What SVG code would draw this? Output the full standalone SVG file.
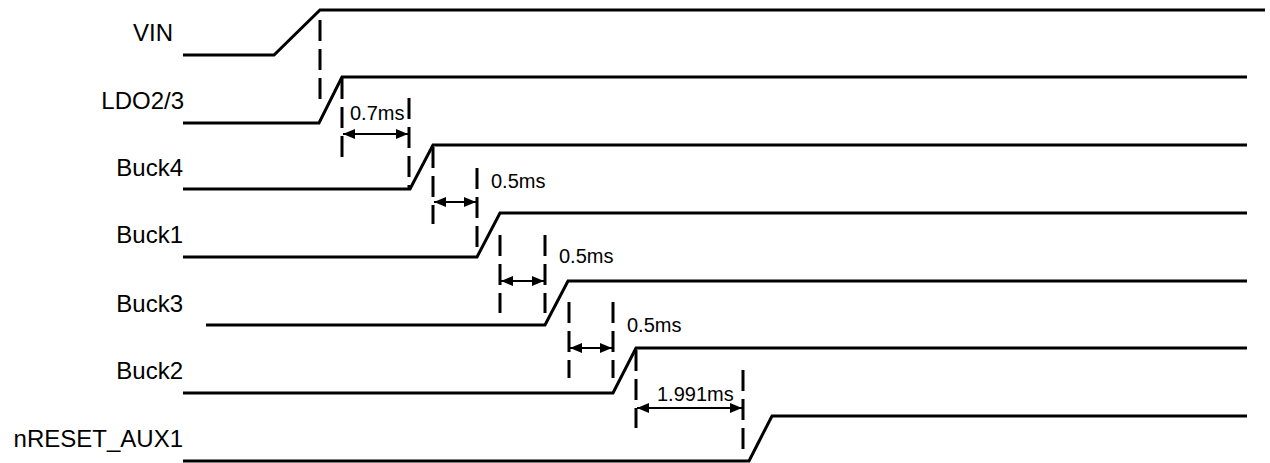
<svg xmlns="http://www.w3.org/2000/svg" width="1270" height="463" viewBox="0 0 1270 463">
<style>
.sig{fill:none;stroke:#000;stroke-width:3;stroke-linejoin:miter}
.dash{fill:none;stroke:#000;stroke-width:3;stroke-dasharray:21 8}
.arr{fill:none;stroke:#000;stroke-width:2;marker-start:url(#ah);marker-end:url(#ah)}
.lbl{font-family:"Liberation Sans",Arial,sans-serif;font-size:24px;fill:#000;text-anchor:end}
.tm{font-family:"Liberation Sans",Arial,sans-serif;font-size:20px;fill:#000}
</style>
<defs>
<marker id="ah" viewBox="0 0 12 10" refX="12" refY="5" markerWidth="12" markerHeight="10" markerUnits="userSpaceOnUse" orient="auto-start-reverse">
<path d="M0 0 L12 5 L0 10 Z" fill="#000"/>
</marker>
</defs>
<rect width="1270" height="463" fill="#fff"/>
<g id="VIN">
<text class="lbl" x="173" y="41">VIN</text>
<path class="sig" d="M183 55 H274 L320 10 H1265"/>
</g>
<g id="LDO23">
<text class="lbl" x="184" y="109">LDO2/3</text>
<path class="sig" d="M183 123 H319 L342 77 H1247"/>
</g>
<g id="Buck4">
<text class="lbl" x="183" y="176">Buck4</text>
<path class="sig" d="M183 189 H410 L433 145 H1247"/>
</g>
<g id="Buck1">
<text class="lbl" x="183" y="243">Buck1</text>
<path class="sig" d="M183 257 H477 L500 213 H1247"/>
</g>
<g id="Buck3">
<text class="lbl" x="183" y="312">Buck3</text>
<path class="sig" d="M206 325 H545 L568 281 H1247"/>
</g>
<g id="Buck2">
<text class="lbl" x="183" y="379">Buck2</text>
<path class="sig" d="M183 393 H613 L636 348 H1247"/>
</g>
<g id="nRESET_AUX1">
<text class="lbl" x="183" y="447">nRESET_AUX1</text>
<path class="sig" d="M183 461 H749 L772 416 H1247"/>
</g>
<g id="connectors">
<line class="dash" x1="320" y1="20" x2="320" y2="100"/>
<line class="dash" x1="342" y1="78" x2="342" y2="157"/>
<line class="dash" x1="409" y1="98" x2="409" y2="188"/>
<line class="arr" x1="343" y1="134" x2="408" y2="134"/>
<text class="tm" x="350" y="120">0.7ms</text>
<line class="dash" x1="433" y1="147" x2="433" y2="224"/>
<line class="dash" x1="477" y1="168" x2="477" y2="248"/>
<line class="arr" x1="434" y1="202" x2="476" y2="202"/>
<text class="tm" x="491" y="188">0.5ms</text>
<line class="dash" x1="500" y1="235" x2="500" y2="313"/>
<line class="dash" x1="545" y1="235" x2="545" y2="313"/>
<line class="arr" x1="501" y1="281" x2="544" y2="281"/>
<text class="tm" x="559" y="263">0.5ms</text>
<line class="dash" x1="569" y1="302" x2="569" y2="378"/>
<line class="dash" x1="613" y1="302" x2="613" y2="378"/>
<line class="arr" x1="570" y1="348" x2="612" y2="348"/>
<text class="tm" x="627" y="332">0.5ms</text>
<line class="dash" x1="636" y1="350" x2="636" y2="428"/>
<line class="dash" x1="743" y1="370" x2="743" y2="450"/>
<line class="arr" x1="637" y1="408" x2="742" y2="408"/>
<text class="tm" x="657" y="401">1.991ms</text>
</g>
</svg>
